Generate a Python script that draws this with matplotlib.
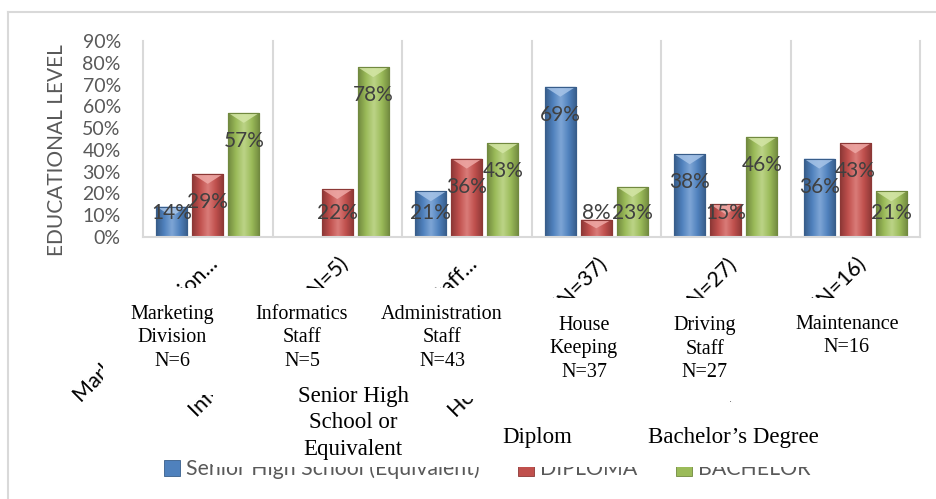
import matplotlib
matplotlib.use("Agg")
import matplotlib.pyplot as plt
import numpy as np
from matplotlib.patches import Rectangle, Polygon, Patch
from matplotlib.colors import LinearSegmentedColormap
import matplotlib.transforms as mtransforms

# ---------------- data ----------------
categories = ["Marketing Division...", "Informatics Staff (N=5)", "Administration Staff...",
              "House Keeping (N=37)", "Driving Staff (N=27)", "Maintenance (N=16)"]
series_names = ["Senior High School (Equivalent)", "DIPLOMA", "BACHELOR"]
senior_high = [0.14, 0.00, 0.21, 0.69, 0.38, 0.36]
diploma = [0.29, 0.22, 0.36, 0.08, 0.15, 0.43]
bachelor = [0.57, 0.78, 0.43, 0.23, 0.46, 0.21]
ytick_values = [0.0, 0.1, 0.2, 0.3, 0.4, 0.5, 0.6, 0.7, 0.8, 0.9]
ytick_labels = ["0%", "10%", "20%", "30%", "40%", "50%", "60%", "70%", "80%", "90%"]
y_title = "EDUCATIONAL LEVEL"
overlay_category_texts = ["Marketing\nDivision\nN=6", "Informatics\nStaff\nN=5",
                          "Administration\nStaff\nN=43", "House\nKeeping\nN=37",
                          "Driving\nStaff\nN=27", "Maintenance\nN=16"]
overlay_series_texts = ["Senior High\nSchool or\nEquivalent", "Diplom", "Bachelor\u2019s Degree"]

# ---------------- style ----------------
W, H = 936, 499
base_cols = ["#4F81BD", "#C0504D", "#9BBB59"]
dark_cols = ["#385D8A", "#8C3836", "#71893F"]
light_cols = ["#7FA6D6", "#DA7C79", "#BCD488"]
cap_cols = ["#A7C4E8", "#EFA9A6", "#D4E6A6"]
SANS = ["Lato", "DejaVu Sans"]
SERIF = ["Liberation Serif", "DejaVu Serif"]

fig = plt.figure(figsize=(W / 100, H / 100), dpi=100)
fig.patch.set_facecolor("white")

def fx(px):
    return px / W

def fy(py):
    return 1 - py / H

# outer chart border
fig.add_artist(plt.Line2D([fx(8), fx(8)], [fy(12), -0.05], transform=fig.transFigure,
                          color="#D9D9D9", lw=1.5, zorder=1))
fig.add_artist(plt.Line2D([fx(8), 1.05], [fy(12), fy(12)], transform=fig.transFigure,
                          color="#D9D9D9", lw=1.5, zorder=1))

ax = fig.add_axes([fx(143), fy(237), (920 - 143) / W, (237 - 41) / H])
n = len(categories)
x = np.arange(n)
ax.set_xlim(-0.5, n - 0.5)
ax.set_ylim(0, 0.9)

for b in np.arange(-0.5, n, 1.0):
    ax.axvline(b, color="#D9D9D9", lw=1.5, clip_on=False, zorder=0.5)

for s in ["top", "right", "left"]:
    ax.spines[s].set_visible(False)
ax.spines["bottom"].set_color("#D9D9D9")
ax.spines["bottom"].set_linewidth(1.5)

bar_w = 0.24
offs = [-0.278, 0.0, 0.278]
all_series = [senior_high, diploma, bachelor]
px_per_unit = (237 - 41) / 0.9

for si, vals in enumerate(all_series):
    bars = ax.bar(x + offs[si], vals, width=bar_w, color=base_cols[si],
                  edgecolor=dark_cols[si], linewidth=0.8, zorder=2)
    cmap = LinearSegmentedColormap.from_list(
        "g%d" % si, [dark_cols[si], base_cols[si], light_cols[si], base_cols[si], dark_cols[si]])
    for patch, v in zip(bars.patches, vals):
        if v <= 0:
            continue
        x0 = patch.get_x()
        x1 = x0 + patch.get_width()
        im = ax.imshow(np.linspace(0, 1, 64)[None, :], extent=[x0, x1, 0, v], aspect="auto",
                       cmap=cmap, zorder=2.1, interpolation="bicubic")
        im.set_clip_path(patch)
        d = min(10 / px_per_unit, v * 0.5)
        ax.add_patch(Polygon([(x0, v), (x1, v), ((x0 + x1) / 2, v - d)], closed=True,
                             facecolor=cap_cols[si], edgecolor="none", alpha=0.85, zorder=2.2))
        ax.add_patch(Rectangle((x0, 0), x1 - x0, v, facecolor="none",
                               edgecolor=dark_cols[si], lw=0.8, zorder=2.3))
        ly = max(v - 28 / px_per_unit, 24 / px_per_unit)
        ax.text(patch.get_x() + patch.get_width() / 2, ly, "%d%%" % round(v * 100),
                ha="center", va="center", fontsize=15, color="#404040", family=SANS, zorder=4)

ax.set_xlim(-0.5, n - 0.5)
ax.set_ylim(0, 0.9)
ax.set_yticks(ytick_values)
ax.set_yticklabels(ytick_labels, fontsize=14, color="#595959", family=SANS)
ax.tick_params(axis="y", length=0, pad=16)
ax.set_xticks(x)
ax.set_xticklabels(categories, rotation=45, ha="right", va="top", rotation_mode="anchor",
                   fontsize=15.5, color="black", family=SANS)
ax.tick_params(axis="x", length=0, pad=12.5)
offset = mtransforms.ScaledTranslation(0.5 / 100, 0, fig.dpi_scale_trans)
for lab in ax.get_xticklabels():
    lab.set_transform(lab.get_transform() + offset)

fig.text(fx(57), fy(150), y_title, rotation=90, ha="center", va="center",
         fontsize=15, color="#595959", family=SANS)

handles = [Patch(facecolor=base_cols[i], edgecolor=dark_cols[i], lw=0.6) for i in range(3)]
leg = fig.legend(handles, series_names, loc="center", bbox_to_anchor=(fx(487), fy(469)),
                 ncol=3, frameon=False, handlelength=0.75, handleheight=0.75,
                 handletextpad=0.3, columnspacing=1.8,
                 prop={"family": SANS, "size": 15.3})
for t in leg.get_texts():
    t.set_color("#595959")

# white overlay text boxes (cover parts of the chart)
cover_boxes = [(103, 288, 240, 395), (240, 288, 372, 378), (372, 288, 522, 399),
               (522, 298, 650, 401), (650, 298, 778, 401), (778, 298, 925, 401),
               (213, 378, 440, 467), (470, 406, 645, 467), (440, 422, 470, 467),
               (645, 406, 830, 467)]
for (x0, y0, x1, y1) in cover_boxes:
    fig.add_artist(Rectangle((fx(x0), fy(y1)), (x1 - x0) / W, (y1 - y0) / H,
                             transform=fig.transFigure, facecolor="white",
                             edgecolor="none", zorder=10))

cat_text_pos = [(172, 338), (302, 338), (442, 338), (584, 349), (705, 349), (847, 336)]
for txt, (cx, cy) in zip(overlay_category_texts, cat_text_pos):
    fig.text(fx(cx), fy(cy), txt, ha="center", va="center", fontsize=14.5,
             family=SERIF, color="black", linespacing=1.3, zorder=11)

ser_text_pos = [(353, 423), (537, 438), (733, 438)]
for txt, (cx, cy) in zip(overlay_series_texts, ser_text_pos):
    fig.text(fx(cx), fy(cy), txt, ha="center", va="center", fontsize=16.5,
             family=SERIF, color="black", linespacing=1.33, zorder=11)

fig.savefig("out.png", dpi=100, facecolor="white")
